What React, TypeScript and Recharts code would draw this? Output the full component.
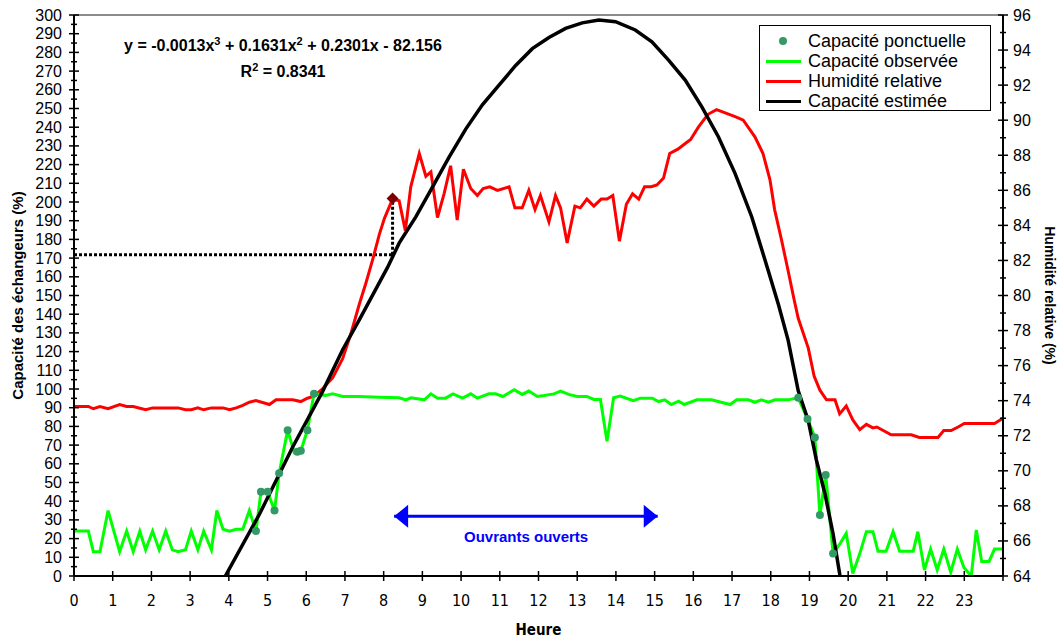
import React from "react";
import {
  ComposedChart,
  Line,
  Scatter,
  XAxis,
  YAxis,
  ReferenceLine,
  ReferenceDot,
} from "recharts";

// [heure, capacité %] – capacité observée (vert)
const capaciteObservee: [number, number][] = [
  [0, 24], [0.37, 24], [0.5, 13], [0.67, 13], [0.88, 35], [1.18, 13], [1.36, 24], [1.53, 13],
  [1.7, 24], [1.85, 14], [2.03, 24], [2.2, 14], [2.37, 24], [2.54, 14], [2.69, 13], [2.88, 14],
  [3.03, 24], [3.2, 14], [3.35, 24], [3.55, 14], [3.69, 35], [3.85, 25], [4.02, 24], [4.19, 25],
  [4.36, 25], [4.53, 35], [4.7, 24], [4.83, 45], [5.0, 45], [5.18, 35], [5.3, 55], [5.52, 78],
  [5.69, 66], [5.86, 67], [6.03, 78], [6.2, 97.5], [6.5, 96.6], [6.68, 97.5], [6.94, 96], [7.36, 96],
  [7.89, 95.6], [8.4, 95.3], [8.57, 94.2], [8.71, 95.3], [9.05, 94.2], [9.22, 97.4], [9.39, 95.1], [9.6, 95.1],
  [9.79, 97.4], [10.04, 95.1], [10.25, 97.4], [10.42, 95.1], [10.72, 97.4], [10.89, 97.4], [11.08, 96], [11.37, 99.6],
  [11.58, 97.1], [11.75, 98.9], [11.97, 96], [12.14, 96.5], [12.4, 97.4], [12.57, 98.9], [12.78, 97.1], [13.0, 96],
  [13.25, 96], [13.43, 94.4], [13.6, 94.4], [13.77, 72], [13.94, 95.3], [14.11, 96.2], [14.45, 93.8], [14.63, 95.1],
  [14.94, 95.1], [15.1, 93.3], [15.26, 94.2], [15.43, 91.7], [15.62, 93.5], [15.77, 91.7], [16.09, 94.2], [16.47, 94.2],
  [16.95, 91.7], [17.12, 94.2], [17.42, 94.2], [17.59, 92.9], [17.76, 94.2], [17.94, 92.9], [18.11, 94.2], [18.45, 94.2],
  [18.71, 95.3], [18.95, 84], [19.14, 74], [19.27, 32.6], [19.42, 54], [19.61, 12], [19.78, 17], [19.95, 22.8],
  [20.12, 1.4], [20.3, 12], [20.47, 23.7], [20.64, 23.7], [20.77, 13.2], [20.98, 13.2], [21.16, 23.7], [21.33, 13.2],
  [21.68, 13.2], [21.8, 23.7], [21.97, 3.2], [22.13, 14.4], [22.3, 3.2], [22.47, 14.4], [22.65, 2], [22.82, 14.4],
  [22.99, 4.6], [23.18, 0], [23.31, 24.6], [23.45, 7.8], [23.64, 7.8], [23.78, 14.4], [24, 14.4],
];

// mesures ponctuelles
const capacitePonctuelle: [number, number][] = [
  [4.7, 24], [4.83, 45], [5.0, 45], [5.18, 35], [5.3, 55], [5.52, 78], [5.77, 66.5], [5.86, 67],
  [6.03, 78], [6.2, 97.5], [18.71, 95.3], [18.95, 84], [19.14, 74], [19.27, 32.6], [19.42, 54], [19.61, 12],
];

// [heure, HR %] – axe de droite
const humiditeRelative: [number, number][] = [
  [0, 73.67], [0.37, 73.67], [0.5, 73.54], [0.67, 73.67], [0.88, 73.54], [1.18, 73.78], [1.36, 73.67], [1.53, 73.67],
  [1.85, 73.48], [2.03, 73.59], [2.69, 73.59], [2.88, 73.48], [3.03, 73.48], [3.2, 73.59], [3.35, 73.48], [3.55, 73.59],
  [3.85, 73.59], [4.02, 73.48], [4.19, 73.59], [4.36, 73.73], [4.53, 73.91], [4.7, 74.01], [5.05, 73.78], [5.22, 74.05],
  [5.65, 74.05], [5.86, 73.95], [6.03, 74.14], [6.2, 74.26], [6.42, 74.68], [6.68, 75.3], [6.94, 76.4], [7.15, 77.8],
  [7.37, 79.5], [7.54, 80.7], [7.71, 82.0], [7.89, 83.5], [8.02, 84.4], [8.23, 85.5], [8.4, 85.4], [8.56, 83.7],
  [8.7, 86.2], [8.92, 88.1], [9.09, 86.8], [9.22, 87.05], [9.39, 84.45], [9.56, 85.8], [9.73, 87.4], [9.9, 84.3],
  [10.06, 87.2], [10.25, 86.1], [10.42, 85.7], [10.57, 86.1], [10.74, 86.2], [10.94, 86.0], [11.24, 86.2], [11.39, 85.0],
  [11.58, 85.0], [11.75, 86.0], [11.91, 84.9], [12.05, 85.7], [12.27, 84.2], [12.44, 85.7], [12.57, 85.0], [12.74, 83.0],
  [12.94, 85.1], [13.08, 85.0], [13.25, 85.5], [13.43, 85.1], [13.62, 85.5], [13.77, 85.5], [13.92, 85.7], [14.09, 83.1],
  [14.27, 85.2], [14.43, 85.8], [14.59, 85.5], [14.74, 86.2], [14.91, 86.2], [15.06, 86.3], [15.23, 86.7], [15.39, 88.1],
  [15.6, 88.35], [15.75, 88.6], [15.93, 88.9], [16.13, 89.6], [16.3, 90.1], [16.39, 90.35], [16.6, 90.6], [17.08, 90.2],
  [17.29, 90.0], [17.59, 89.05], [17.8, 88.1], [17.98, 86.6], [18.1, 84.9], [18.28, 83.15], [18.45, 81.4], [18.6, 79.8],
  [18.71, 78.7], [18.97, 77.0], [19.12, 75.4], [19.27, 74.6], [19.44, 74.05], [19.66, 74.05], [19.78, 73.25], [19.95, 73.7],
  [20.12, 72.9], [20.3, 72.35], [20.47, 72.65], [20.64, 72.45], [20.74, 72.5], [21.11, 72.05], [21.63, 72.05], [21.84, 71.9],
  [22.32, 71.9], [22.47, 72.3], [22.66, 72.3], [22.84, 72.5], [23.0, 72.7], [23.78, 72.7], [24, 73.0],
];

// courbe de tendance (capacité estimée)
const capaciteEstimee: [number, number][] = [
  [3.91, 0], [4.79, 33], [5.65, 69], [6.43, 99], [6.94, 121], [7.37, 137], [8.1, 165], [8.4, 178],
  [8.83, 192], [9.26, 208], [9.69, 224], [10.12, 239], [10.55, 252], [10.98, 262.5], [11.41, 273], [11.84, 282],
  [12.27, 288], [12.7, 292.8], [13.13, 295.8], [13.56, 297.3], [13.99, 296.4], [14.5, 292], [14.93, 285.7], [15.36, 275.9],
  [15.79, 265.2], [16.22, 250.9], [16.65, 234.8], [17.08, 215.2], [17.51, 192], [17.94, 163], [18.2, 145], [18.45, 126],
  [18.71, 99], [18.97, 83], [19.18, 62], [19.4, 44], [19.61, 22.5], [19.79, 0],
];

// lecture graphique : HR 85.5 % -> capacité 171.8 % à 8.23 h
const lectureHoraire = 8.23;
const lectureCapacite = 171.8;
const lectureHR = 85.53;
const lectureHREnCapacite = 201.8;

// période ouvrants ouverts
const ouvrantsDebut = 8.27;
const ouvrantsFin = 15.08;
const ouvrantsNiveau = 31.9;

const heureTicks = [0, 1, 2, 3, 4, 5, 6, 7, 8, 9, 10, 11, 12, 13, 14, 15, 16, 17, 18, 19, 20, 21, 22, 23];
const capaciteLabels = [0, 10, 20, 30, 40, 50, 60, 70, 80, 90, 100, 110, 120, 130, 140, 150, 160, 170, 180, 190, 200, 210, 220, 230, 240, 250, 260, 270, 280, 290, 300];
const hrLabels = [64, 66, 68, 70, 72, 74, 76, 78, 80, 82, 84, 86, 88, 90, 92, 94, 96];

const pts = (arr: [number, number][]) => arr.map(([t, v]) => ({ t, v }));

const leftTicks = capaciteLabels.flatMap((v, i) => (i === 0 ? [v] : [v - 5, v]));
const rightTicks = hrLabels.flatMap((v, i) => (i === 0 ? [v] : [v - 1, v]));
const xTicks = [...heureTicks, 24];

const FONT = '"Liberation Sans", Arial, sans-serif';
const NARROW = '"Liberation Sans Narrow", "Arial Narrow", "DejaVu Sans Condensed", sans-serif';

const LeftTick = (props: any) => {
  const { x, y, payload } = props;
  const major = payload.value % 10 === 0;
  const s = major ? 5 : 3;
  return (
    <g>
      <line x1={x - s} x2={x + s} y1={y} y2={y} stroke="#000" strokeWidth={1.5} />
      {major && (
        <text x={x - 12} y={y + 5.5} textAnchor="end" fontSize={16} fontFamily={FONT} fill="#000">
          {payload.value}
        </text>
      )}
    </g>
  );
};

const RightTick = (props: any) => {
  const { x, y, payload } = props;
  const major = payload.value % 2 === 0;
  const s = major ? 5 : 3;
  return (
    <g>
      <line x1={x - s} x2={x + s} y1={y} y2={y} stroke="#000" strokeWidth={1.5} />
      {major && (
        <text x={x + 10} y={y + 5.5} textAnchor="start" fontSize={16} fontFamily={FONT} fill="#000">
          {payload.value}
        </text>
      )}
    </g>
  );
};

const HourTick = (props: any) => {
  const { x, y, payload } = props;
  return (
    <g>
      <line x1={x} x2={x} y1={y - 5} y2={y + 5} stroke="#000" strokeWidth={1.5} />
      {payload.value < 24 && (
        <text x={x} y={y + 30} textAnchor="middle" fontSize={16} fontFamily={NARROW} fill="#000">
          {payload.value}
        </text>
      )}
    </g>
  );
};

const ArrowHead = (props: any) => {
  const { cx, cy, index } = props;
  const d = index === 0 ? -1 : 1;
  const p = `${cx},${cy} ${cx - d * 14},${cy - 11.5} ${cx - d * 14},${cy + 11.5}`;
  return <polygon key={`a${index}`} points={p} fill="#0000FF" />;
};

const Diamond = (props: any) => {
  const { cx, cy } = props;
  const p = `${cx},${cy - 6} ${cx + 6},${cy} ${cx},${cy + 6} ${cx - 6},${cy}`;
  return <polygon points={p} fill="#7F0000" />;
};

const PointDot = (props: any) => <circle cx={props.cx} cy={props.cy} r={4} fill="#339966" />;

const legendItems = [
  { name: "Capacité ponctuelle", kind: "dot", color: "#339966" },
  { name: "Capacité observée", kind: "line", color: "#00FF00" },
  { name: "Humidité relative", kind: "line", color: "#FF0000" },
  { name: "Capacité estimée", kind: "line", color: "#000000" },
];

const supStyle = { fontSize: 11, lineHeight: 0 };

export default function App() {
  return (
    <div style={{ position: "absolute", left: 0, top: 0, width: 1064, height: 640, background: "#fff", fontFamily: FONT }}>
      <ComposedChart width={1064} height={640} margin={{ top: 15, right: 0, bottom: 0, left: 0 }}>
        <XAxis
          dataKey="t"
          type="number"
          domain={[0, 24]}
          ticks={xTicks}
          interval={0}
          height={64}
          tickSize={0}
          tickMargin={0}
          allowDataOverflow
          axisLine={{ stroke: "#000", strokeWidth: 2 }}
          tick={(p: any) => <HourTick {...p} />}
          label={{ value: "Heure", position: "insideBottom", offset: 5, fontSize: 15, fontWeight: "bold", fill: "#000", fontFamily: NARROW }}
        />
        <YAxis
          yAxisId="left"
          type="number"
          domain={[0, 300]}
          ticks={leftTicks}
          interval={0}
          width={74}
          tickSize={0}
          tickMargin={0}
          allowDataOverflow
          axisLine={{ stroke: "#000", strokeWidth: 2 }}
          tick={(p: any) => <LeftTick {...p} />}
          label={{
            value: "Capacité des échangeurs (%)",
            angle: -90,
            position: "insideLeft",
            offset: 18,
            style: { textAnchor: "middle" },
            fontSize: 15,
            fontWeight: "bold",
            fill: "#000",
            fontFamily: FONT,
          }}
        />
        <YAxis
          yAxisId="right"
          orientation="right"
          type="number"
          domain={[64, 96]}
          ticks={rightTicks}
          interval={0}
          width={61}
          tickSize={0}
          tickMargin={0}
          allowDataOverflow
          axisLine={{ stroke: "#000", strokeWidth: 2 }}
          tick={(p: any) => <RightTick {...p} />}
          label={{
            value: "Humidité relative (%)",
            angle: 90,
            position: "insideRight",
            offset: 14,
            style: { textAnchor: "middle" },
            fontSize: 14,
            fontWeight: "bold",
            fill: "#000",
            fontFamily: FONT,
          }}
        />
        <ReferenceLine yAxisId="left" y={300} stroke="#8c8c8c" strokeWidth={2} />

        <Line
          yAxisId="left"
          data={pts([[0, lectureCapacite], [lectureHoraire, lectureCapacite]])}
          dataKey="v"
          stroke="#000"
          strokeWidth={3}
          strokeDasharray="3 2"
          dot={false}
          isAnimationActive={false}
        />
        <Line
          yAxisId="left"
          data={pts([[lectureHoraire, lectureCapacite], [lectureHoraire, lectureHREnCapacite]])}
          dataKey="v"
          stroke="#000"
          strokeWidth={3}
          strokeDasharray="3 2"
          dot={false}
          isAnimationActive={false}
        />
        <Line
          yAxisId="right"
          data={pts(humiditeRelative)}
          dataKey="v"
          stroke="#FF0000"
          strokeWidth={3}
          dot={false}
          isAnimationActive={false}
        />
        <Line
          yAxisId="left"
          data={pts(capaciteObservee)}
          dataKey="v"
          stroke="#00FF00"
          strokeWidth={3}
          dot={false}
          isAnimationActive={false}
        />
        <Scatter
          yAxisId="left"
          data={pts(capacitePonctuelle)}
          dataKey="v"
          shape={PointDot}
          isAnimationActive={false}
        />
        <Line
          yAxisId="left"
          data={pts(capaciteEstimee)}
          dataKey="v"
          stroke="#000"
          strokeWidth={3.5}
          dot={false}
          isAnimationActive={false}
        />
        <Scatter
          yAxisId="right"
          data={pts([[lectureHoraire, lectureHR]])}
          dataKey="v"
          shape={Diamond}
          isAnimationActive={false}
        />
        <Line
          yAxisId="left"
          data={pts([[ouvrantsDebut, ouvrantsNiveau], [ouvrantsFin, ouvrantsNiveau]])}
          dataKey="v"
          stroke="#0000FF"
          strokeWidth={3}
          dot={ArrowHead}
          isAnimationActive={false}
        />
        <ReferenceDot
          yAxisId="left"
          x={11.68}
          y={21}
          r={0}
          stroke="none"
          label={{ value: "Ouvrants ouverts", position: "center", fill: "#0000FF", fontSize: 15, fontWeight: "bold", fontFamily: FONT }}
        />
      </ComposedChart>

      <div
        style={{
          position: "absolute",
          left: 83,
          top: 33,
          width: 400,
          textAlign: "center",
          fontWeight: "bold",
          fontSize: 16,
          lineHeight: "26px",
          color: "#000",
        }}
      >
        <div>
          y = -0.0013x<sup style={supStyle}>3</sup> + 0.1631x<sup style={supStyle}>2</sup> + 0.2301x - 82.156
        </div>
        <div>
          R<sup style={supStyle}>2</sup> = 0.8341
        </div>
      </div>

      <div
        style={{
          position: "absolute",
          left: 759,
          top: 25,
          width: 232,
          height: 86,
          border: "1.5px solid #000",
          background: "#fff",
          boxSizing: "border-box",
          paddingTop: 5,
        }}
      >
        {legendItems.map((it) => (
          <div key={it.name} style={{ display: "flex", alignItems: "center", height: 20, fontSize: 18, color: "#000" }}>
            <div style={{ width: 46, display: "flex", justifyContent: "center", alignItems: "center" }}>
              {it.kind === "dot" ? (
                <div style={{ width: 8, height: 8, borderRadius: 4, background: it.color }} />
              ) : (
                <div style={{ width: 35, height: 3, background: it.color }} />
              )}
            </div>
            <span style={{ marginLeft: 2 }}>{it.name}</span>
          </div>
        ))}
      </div>
    </div>
  );
}
